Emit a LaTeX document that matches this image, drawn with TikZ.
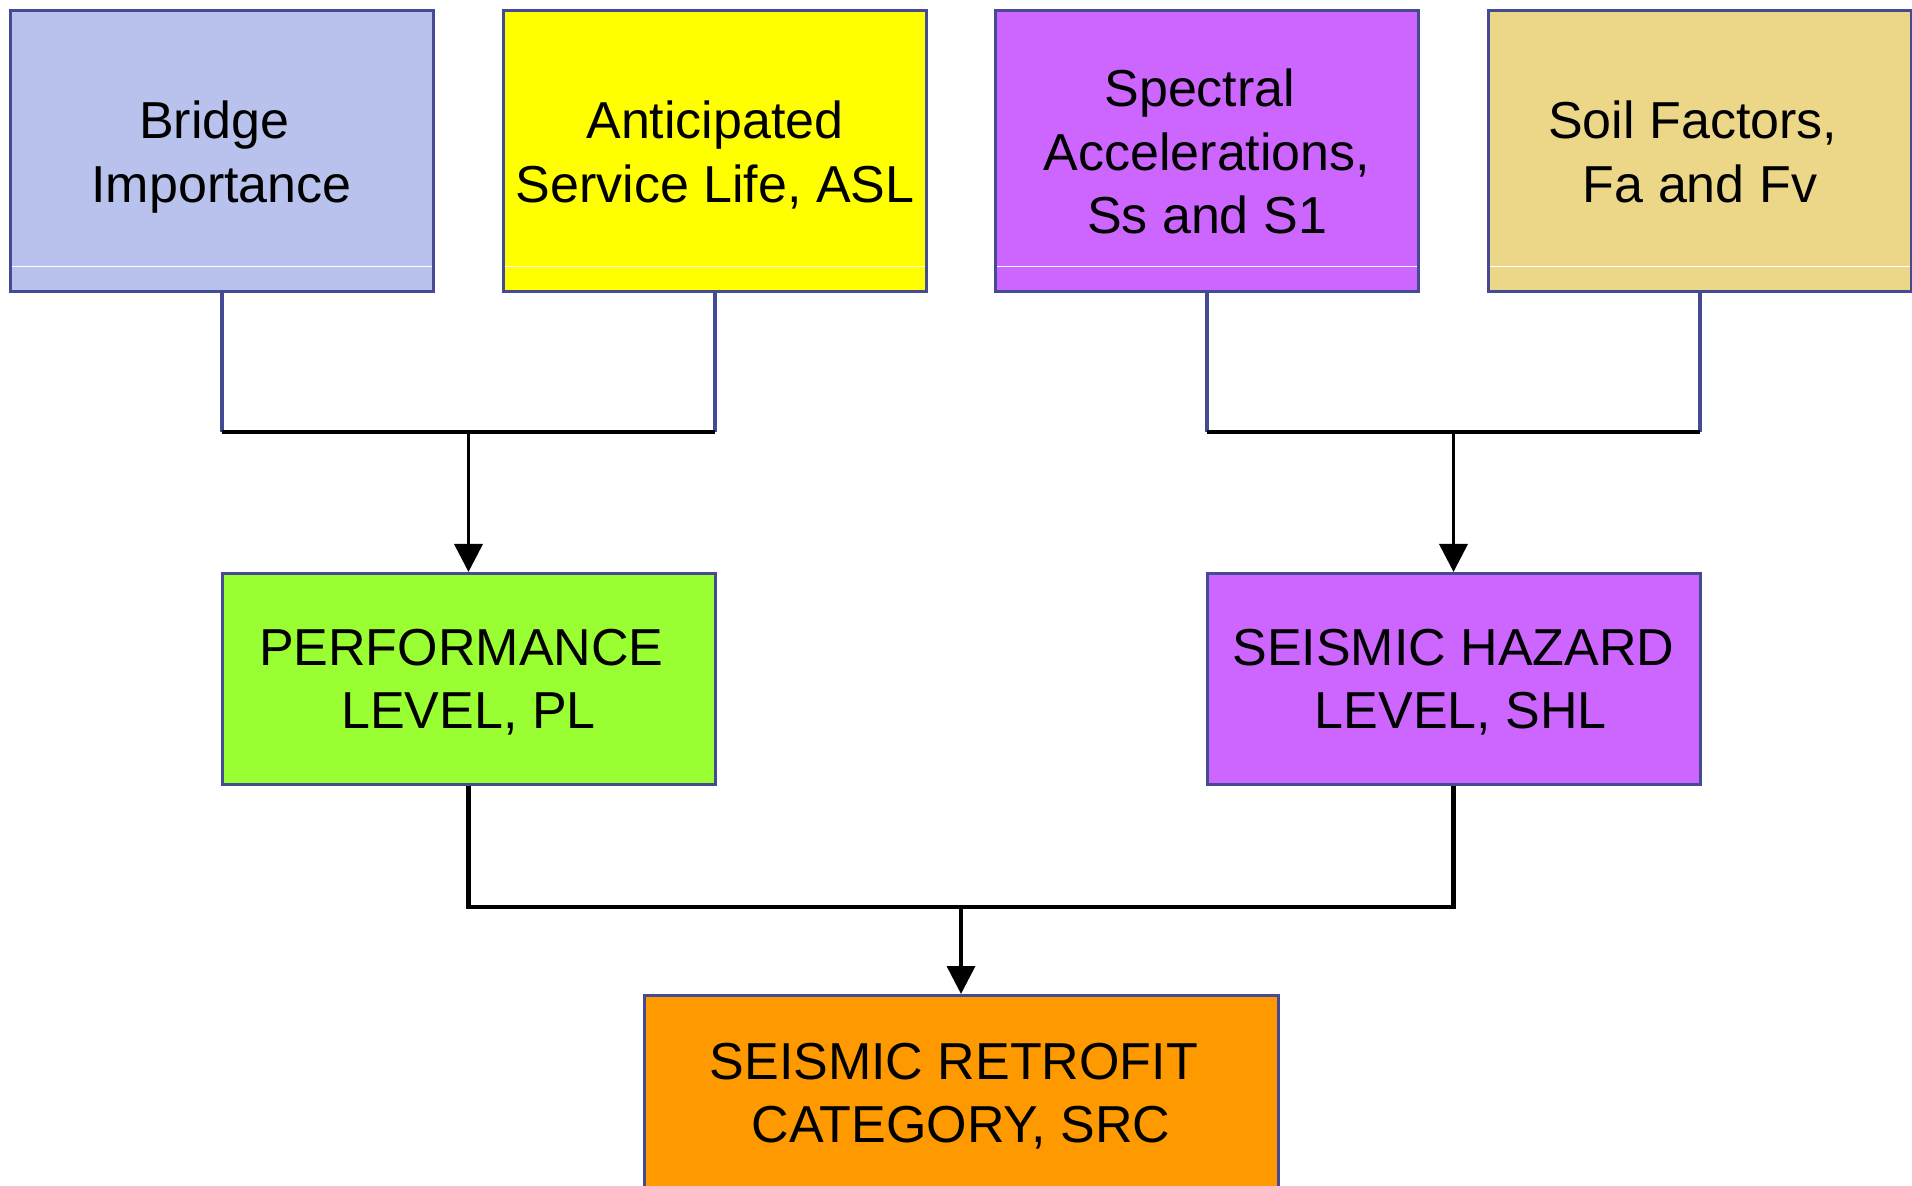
\documentclass[tikz,border=0pt]{standalone}
\usepackage{fontspec}
\setmainfont{Liberation Sans}
\usetikzlibrary{arrows.meta,calc}

\definecolor{edgenavy}{HTML}{454A94}
\definecolor{fillblue}{HTML}{B8C2EC}
\definecolor{fillyellow}{HTML}{FFFF00}
\definecolor{fillpurple}{HTML}{CC66FF}
\definecolor{fillkhaki}{HTML}{EBD787}
\definecolor{fillgreen}{HTML}{99FF33}
\definecolor{fillorange}{HTML}{FF9900}

% a kept word space at a line end or start
\newcommand{\tsp}{\hspace*{0.278em}}

\tikzset{
  box/.style={draw=edgenavy, line width=1.5pt, rectangle, inner sep=0pt,
    align=center, text depth=0pt, font=\fontsize{26pt}{31.7pt}\selectfont},
  inbox/.style={box, minimum width=211.5pt, minimum height=140.5pt},
  midbox/.style={box, minimum width=246.5pt, minimum height=105.5pt},
  stem/.style={draw=edgenavy, line width=2pt},
  bar/.style={draw=black, line width=2.4pt},
  arr/.style={draw=black, line width=1.8pt, -{Triangle[width=14pt,length=14pt]}},
  sheen/.style={draw=white, line width=0.5pt}
}

\begin{document}
\begin{tikzpicture}[x=0.5pt, y=-0.5pt]
  \useasboundingbox (0,0) rectangle (1912,1186);

  % input boxes
  \node[inbox, fill=fillblue]   (imp)  at (221.5,151.5) {Bridge\tsp\\Importance};
  \node[inbox, fill=fillyellow] (asl)  at (715,151.5)   {Anticipated\\Service Life, ASL};
  \node[inbox, fill=fillpurple] (spec) at (1207,151.5)  {Spectral\tsp\\Accelerations,\tsp\\Ss and S1};
  \node[inbox, fill=fillkhaki]  (soil) at (1700,151.5)  {Soil Factors,\tsp\\Fa and Fv};

  % thin highlight line near the bottom of each input box
  \foreach \b in {imp,asl,spec,soil}{
    \draw[sheen] ($(\b.south west)+(3,-27)$) -- ($(\b.south east)+(-3,-27)$);
  }

  % intermediate levels
  \node[midbox, fill=fillgreen]  (pl)  at (468.5,679)  {PERFORMANCE\tsp\\LEVEL, PL};
  \node[midbox, fill=fillpurple] (shl) at (1453.5,679) {SEISMIC HAZARD\\\tsp LEVEL, SHL};

  % result
  \node[box, fill=fillorange, minimum width=317pt, minimum height=97.5pt]
    (src) at (961,1093) {SEISMIC RETROFIT\tsp\\CATEGORY, SRC};

  % junction points
  \coordinate (jl) at (468.5,432);
  \coordinate (jr) at (1453.5,432);
  \coordinate (jb) at (961,907);

  % left pair to performance level
  \draw[stem] (imp.south) -- (imp.south |- jl);
  \draw[stem] (asl.south) -- (asl.south |- jl);
  \draw[bar] (imp.south |- jl) -- (asl.south |- jl);
  \draw[arr] (jl) -- (pl.north);

  % right pair to seismic hazard level
  \draw[stem] (spec.south) -- (spec.south |- jr);
  \draw[stem] (soil.south) -- (soil.south |- jr);
  \draw[bar] (spec.south |- jr) -- (soil.south |- jr);
  \draw[arr] (jr) -- (shl.north);

  % both levels to retrofit category
  \draw[bar] (pl.south) -- (pl.south |- jb) -- (shl.south |- jb) -- (shl.south);
  \draw[arr] (jb) -- (src.north);
\end{tikzpicture}
\end{document}
